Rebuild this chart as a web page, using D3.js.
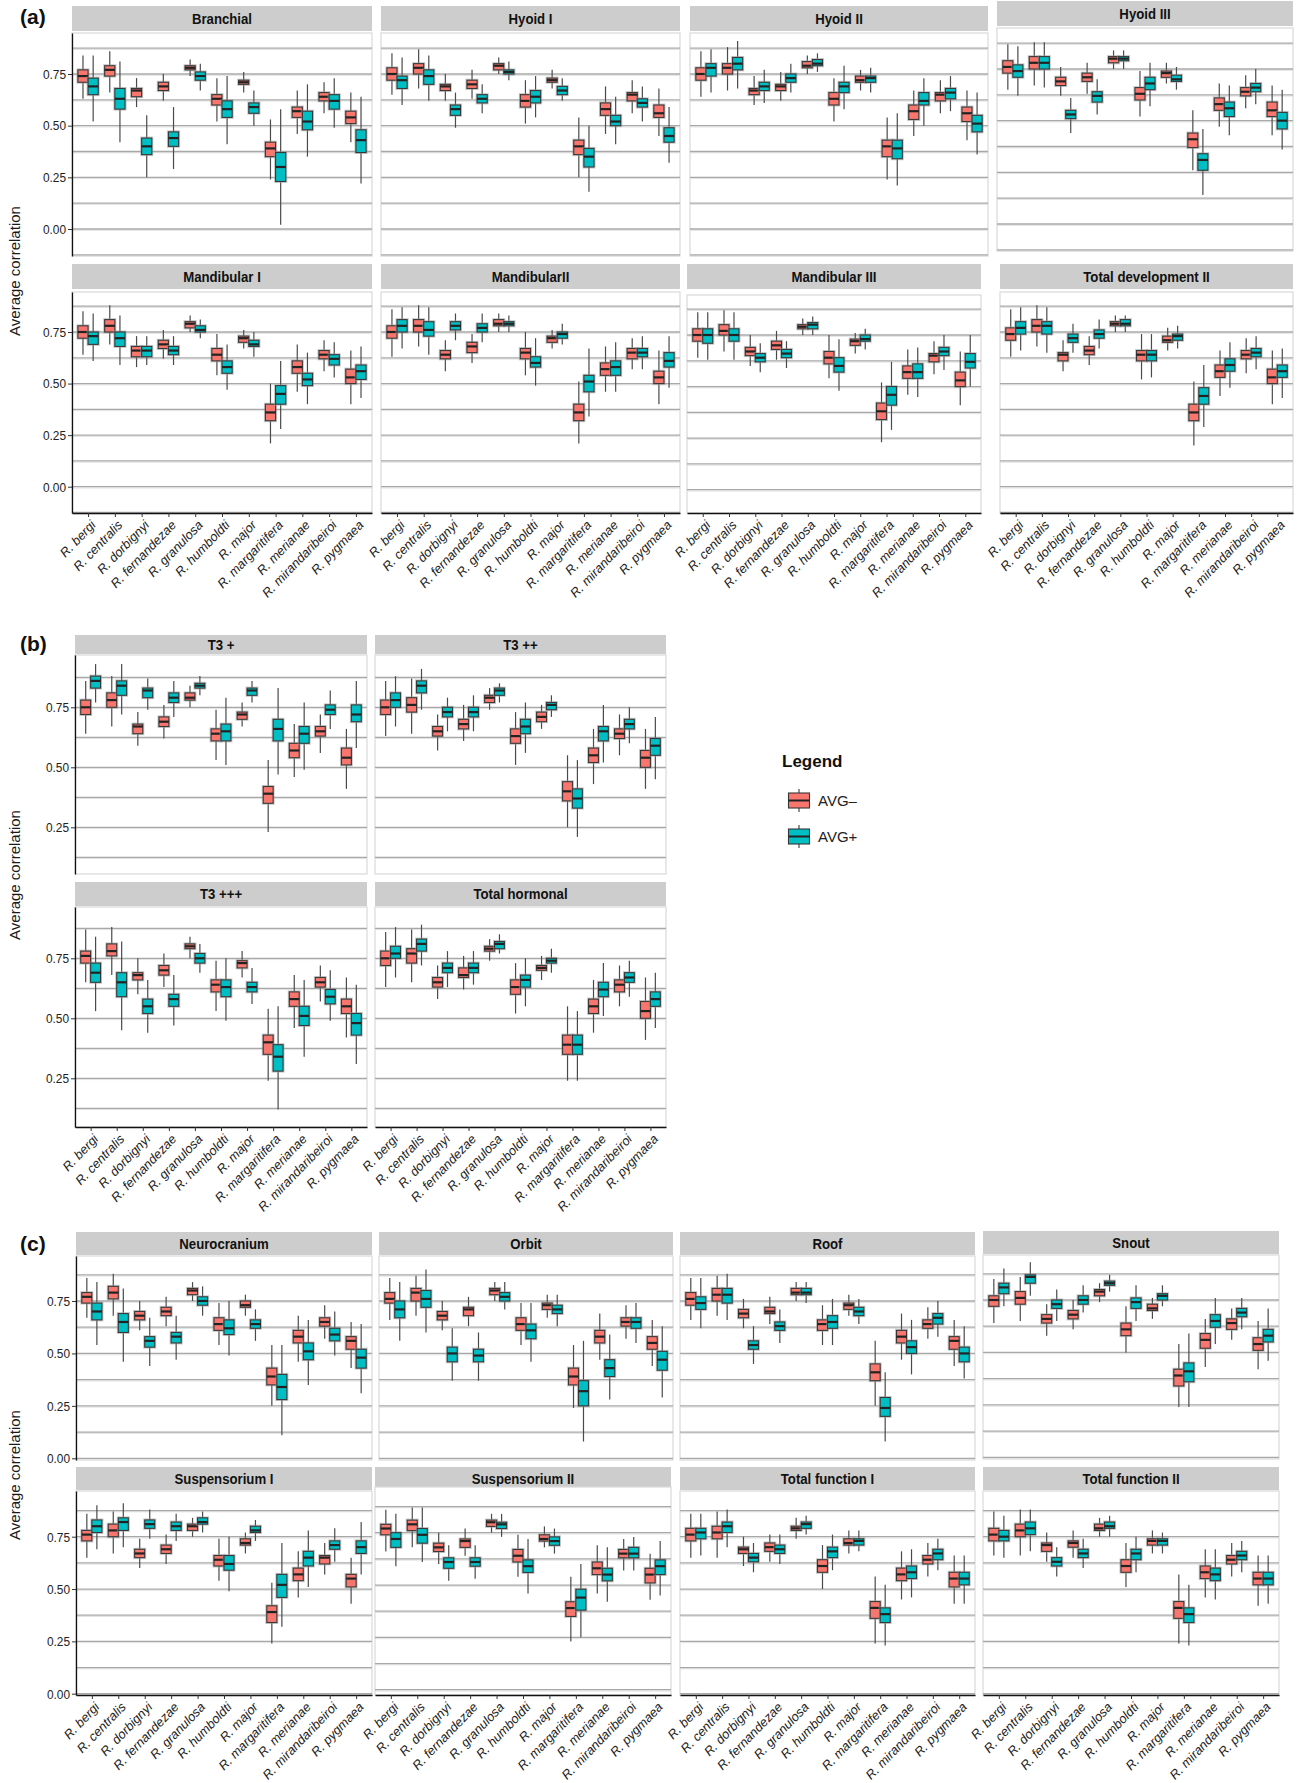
<!DOCTYPE html>
<html>
<head>
<meta charset="utf-8">
<script src="https://cdn.jsdelivr.net/npm/d3@7"></script>
<style>
  body { margin: 0; background: #fff; }
  svg { display: block; }
</style>
</head>
<body>
<div class="visHolder"></div>
<script>
// species on the x axis, two groups per species
const species = ['R. bergi', 'R. centralis', 'R. dorbignyi', 'R. fernandezae', 'R. granulosa',
  'R. humboldti', 'R. major', 'R. margaritifera', 'R. merianae', 'R. mirandaribeiroi', 'R. pygmaea'];
const seriesNames = ['AVG\u2013', 'AVG+'];
const seriesColors = ['#F8766D', '#00BFC4'];
const yTicks = [0, 0.25, 0.5, 0.75];

// each box: [lower whisker, q1, median, q3, upper whisker]
const branchialNeg = [[0.63,0.71,0.74,0.77,0.84],[0.66,0.74,0.77,0.79,0.86],[0.59,0.64,0.67,0.68,0.73],[0.62,0.67,0.69,0.71,0.75],[0.74,0.77,0.78,0.79,0.82],[0.52,0.60,0.63,0.65,0.73],[0.66,0.70,0.71,0.72,0.76],[0.24,0.35,0.39,0.42,0.53],[0.46,0.54,0.57,0.59,0.67],[0.56,0.62,0.64,0.66,0.71],[0.42,0.51,0.54,0.57,0.66]];
const branchialPos = [[0.52,0.65,0.69,0.73,0.84],[0.42,0.58,0.63,0.68,0.81],[0.25,0.36,0.40,0.44,0.55],[0.29,0.40,0.44,0.47,0.59],[0.67,0.72,0.74,0.76,0.80],[0.41,0.54,0.58,0.62,0.74],[0.50,0.56,0.59,0.61,0.67],[0.02,0.23,0.30,0.37,0.58],[0.35,0.48,0.52,0.57,0.70],[0.49,0.58,0.62,0.65,0.73],[0.22,0.37,0.43,0.48,0.64]];
const hyoid1Neg = [[0.65,0.72,0.75,0.78,0.85],[0.68,0.75,0.78,0.80,0.87],[0.62,0.67,0.69,0.70,0.75],[0.63,0.68,0.70,0.72,0.77],[0.75,0.77,0.79,0.80,0.83],[0.51,0.59,0.62,0.65,0.72],[0.68,0.71,0.72,0.73,0.77],[0.25,0.36,0.40,0.43,0.54],[0.46,0.55,0.58,0.61,0.69],[0.56,0.62,0.65,0.66,0.72],[0.45,0.54,0.56,0.60,0.68]];
const hyoid1Pos = [[0.60,0.68,0.72,0.74,0.83],[0.62,0.70,0.74,0.77,0.84],[0.49,0.55,0.58,0.60,0.66],[0.56,0.61,0.63,0.65,0.70],[0.72,0.75,0.76,0.77,0.81],[0.54,0.61,0.64,0.67,0.74],[0.62,0.65,0.67,0.69,0.73],[0.18,0.30,0.35,0.39,0.50],[0.41,0.50,0.52,0.55,0.64],[0.52,0.59,0.61,0.63,0.69],[0.32,0.42,0.45,0.49,0.59]];
const hyoid2Neg = [[0.64,0.72,0.75,0.78,0.86],[0.67,0.75,0.78,0.80,0.88],[0.60,0.65,0.67,0.68,0.74],[0.62,0.67,0.69,0.70,0.76],[0.75,0.78,0.79,0.81,0.84],[0.52,0.60,0.63,0.66,0.73],[0.67,0.71,0.72,0.74,0.77],[0.24,0.35,0.40,0.43,0.54],[0.45,0.53,0.57,0.60,0.67],[0.56,0.62,0.65,0.66,0.72],[0.43,0.52,0.56,0.59,0.67]];
const hyoid2Pos = [[0.66,0.74,0.78,0.80,0.87],[0.68,0.77,0.80,0.83,0.91],[0.61,0.67,0.69,0.71,0.77],[0.66,0.71,0.73,0.75,0.80],[0.76,0.79,0.80,0.82,0.85],[0.58,0.66,0.69,0.71,0.79],[0.66,0.71,0.73,0.74,0.78],[0.21,0.34,0.39,0.43,0.56],[0.50,0.60,0.62,0.66,0.73],[0.57,0.63,0.66,0.68,0.74],[0.36,0.47,0.51,0.55,0.66]];
const hyoid3Neg = [[0.65,0.73,0.76,0.79,0.87],[0.67,0.75,0.78,0.81,0.88],[0.62,0.67,0.69,0.71,0.76],[0.63,0.69,0.71,0.73,0.78],[0.75,0.78,0.80,0.81,0.84],[0.52,0.60,0.63,0.66,0.74],[0.68,0.71,0.73,0.74,0.78],[0.26,0.37,0.41,0.44,0.55],[0.47,0.55,0.58,0.61,0.68],[0.56,0.62,0.64,0.66,0.72],[0.43,0.52,0.55,0.59,0.67]];
const hyoid3Pos = [[0.62,0.71,0.74,0.77,0.86],[0.66,0.75,0.78,0.81,0.88],[0.44,0.51,0.53,0.55,0.61],[0.53,0.59,0.62,0.64,0.70],[0.75,0.79,0.80,0.81,0.84],[0.57,0.65,0.68,0.71,0.78],[0.65,0.69,0.70,0.72,0.76],[0.14,0.26,0.31,0.34,0.46],[0.43,0.52,0.56,0.59,0.67],[0.58,0.64,0.66,0.68,0.75],[0.36,0.46,0.50,0.54,0.65]];
const mand1Neg = [[0.64,0.72,0.75,0.78,0.85],[0.69,0.75,0.78,0.81,0.88],[0.58,0.63,0.66,0.68,0.73],[0.62,0.67,0.69,0.71,0.76],[0.75,0.77,0.79,0.80,0.83],[0.54,0.61,0.64,0.67,0.74],[0.67,0.70,0.72,0.73,0.76],[0.21,0.32,0.36,0.40,0.50],[0.46,0.55,0.58,0.61,0.69],[0.56,0.62,0.64,0.66,0.71],[0.40,0.50,0.53,0.57,0.66]];
const mand1Pos = [[0.61,0.69,0.73,0.75,0.84],[0.59,0.68,0.72,0.75,0.83],[0.59,0.63,0.66,0.68,0.73],[0.59,0.64,0.66,0.68,0.73],[0.72,0.75,0.76,0.78,0.81],[0.47,0.55,0.58,0.61,0.69],[0.63,0.68,0.69,0.71,0.75],[0.28,0.40,0.45,0.49,0.61],[0.40,0.49,0.52,0.55,0.65],[0.53,0.59,0.62,0.64,0.70],[0.43,0.52,0.56,0.59,0.68]];
const mand2Neg = [[0.63,0.72,0.75,0.78,0.86],[0.68,0.75,0.78,0.81,0.88],[0.56,0.62,0.64,0.66,0.71],[0.60,0.65,0.68,0.70,0.74],[0.75,0.78,0.79,0.81,0.84],[0.54,0.62,0.65,0.67,0.75],[0.67,0.70,0.72,0.73,0.76],[0.21,0.32,0.36,0.40,0.51],[0.46,0.54,0.57,0.60,0.68],[0.57,0.62,0.65,0.67,0.72],[0.40,0.50,0.53,0.56,0.66]];
const mand2Pos = [[0.67,0.75,0.78,0.81,0.87],[0.64,0.73,0.76,0.80,0.87],[0.71,0.76,0.78,0.80,0.84],[0.70,0.75,0.77,0.79,0.84],[0.75,0.78,0.79,0.80,0.83],[0.49,0.58,0.60,0.63,0.72],[0.69,0.72,0.74,0.75,0.79],[0.34,0.46,0.51,0.54,0.67],[0.46,0.54,0.58,0.61,0.70],[0.57,0.63,0.65,0.67,0.73],[0.48,0.58,0.61,0.65,0.73]];
const mand3Neg = [[0.64,0.72,0.75,0.78,0.86],[0.67,0.75,0.77,0.80,0.87],[0.60,0.65,0.67,0.69,0.75],[0.63,0.68,0.70,0.72,0.77],[0.75,0.78,0.79,0.80,0.83],[0.54,0.61,0.64,0.67,0.75],[0.66,0.70,0.72,0.73,0.76],[0.23,0.34,0.38,0.42,0.52],[0.46,0.54,0.57,0.60,0.68],[0.56,0.62,0.65,0.66,0.72],[0.41,0.50,0.53,0.57,0.67]];
const mand3Pos = [[0.63,0.71,0.75,0.78,0.86],[0.63,0.72,0.75,0.78,0.86],[0.57,0.62,0.64,0.66,0.71],[0.59,0.64,0.66,0.68,0.72],[0.75,0.78,0.80,0.81,0.84],[0.48,0.57,0.60,0.64,0.73],[0.68,0.72,0.73,0.75,0.78],[0.29,0.41,0.46,0.50,0.62],[0.45,0.54,0.57,0.61,0.69],[0.58,0.65,0.67,0.69,0.75],[0.50,0.59,0.62,0.66,0.75]];
const totDevNeg = [[0.63,0.71,0.74,0.77,0.86],[0.68,0.75,0.78,0.81,0.88],[0.56,0.61,0.64,0.65,0.71],[0.59,0.64,0.66,0.68,0.73],[0.75,0.78,0.79,0.80,0.83],[0.52,0.61,0.64,0.66,0.74],[0.66,0.70,0.71,0.73,0.77],[0.20,0.32,0.36,0.40,0.51],[0.44,0.53,0.56,0.59,0.66],[0.55,0.62,0.64,0.66,0.72],[0.40,0.50,0.53,0.57,0.66]];
const totDevPos = [[0.66,0.74,0.77,0.80,0.87],[0.65,0.74,0.78,0.80,0.87],[0.65,0.70,0.72,0.74,0.79],[0.67,0.72,0.74,0.76,0.81],[0.75,0.78,0.79,0.81,0.83],[0.53,0.61,0.64,0.66,0.74],[0.67,0.71,0.73,0.74,0.78],[0.29,0.40,0.44,0.48,0.59],[0.48,0.56,0.59,0.62,0.70],[0.57,0.63,0.65,0.67,0.73],[0.43,0.53,0.56,0.59,0.67]];
const t3aNeg = [[0.64,0.72,0.75,0.78,0.86],[0.67,0.75,0.78,0.81,0.88],[0.59,0.64,0.67,0.68,0.73],[0.62,0.67,0.69,0.71,0.76],[0.75,0.78,0.79,0.81,0.84],[0.53,0.61,0.64,0.66,0.74],[0.67,0.70,0.72,0.73,0.77],[0.23,0.35,0.39,0.42,0.53],[0.46,0.54,0.57,0.60,0.68],[0.56,0.63,0.65,0.67,0.72],[0.41,0.51,0.54,0.58,0.66]];
const t3aPos = [[0.77,0.83,0.86,0.88,0.93],[0.72,0.80,0.84,0.86,0.93],[0.74,0.79,0.82,0.83,0.87],[0.71,0.77,0.79,0.81,0.86],[0.80,0.83,0.84,0.85,0.88],[0.51,0.61,0.65,0.68,0.79],[0.77,0.80,0.82,0.83,0.86],[0.47,0.61,0.66,0.70,0.83],[0.49,0.60,0.64,0.67,0.77],[0.66,0.72,0.74,0.76,0.82],[0.58,0.69,0.72,0.76,0.86]];
const t3bNeg = [[0.63,0.72,0.75,0.78,0.86],[0.64,0.73,0.76,0.79,0.87],[0.57,0.63,0.65,0.67,0.72],[0.61,0.66,0.68,0.70,0.76],[0.74,0.77,0.79,0.80,0.83],[0.51,0.60,0.63,0.66,0.73],[0.66,0.69,0.71,0.73,0.76],[0.25,0.36,0.40,0.44,0.55],[0.43,0.52,0.55,0.58,0.66],[0.55,0.62,0.64,0.66,0.72],[0.41,0.50,0.54,0.57,0.66]];
const t3bPos = [[0.67,0.75,0.78,0.81,0.88],[0.74,0.81,0.84,0.86,0.91],[0.65,0.71,0.73,0.75,0.79],[0.65,0.71,0.73,0.75,0.80],[0.77,0.80,0.82,0.83,0.85],[0.56,0.64,0.67,0.70,0.77],[0.71,0.74,0.76,0.77,0.80],[0.21,0.33,0.37,0.41,0.53],[0.52,0.61,0.65,0.67,0.76],[0.60,0.66,0.68,0.70,0.75],[0.45,0.55,0.59,0.62,0.71]];
const t3cNeg = [[0.65,0.73,0.76,0.78,0.87],[0.68,0.76,0.78,0.81,0.88],[0.60,0.66,0.68,0.69,0.75],[0.63,0.68,0.70,0.72,0.77],[0.75,0.79,0.80,0.81,0.84],[0.53,0.61,0.64,0.66,0.74],[0.67,0.71,0.73,0.74,0.78],[0.24,0.35,0.40,0.43,0.54],[0.46,0.55,0.58,0.61,0.68],[0.57,0.63,0.65,0.67,0.72],[0.42,0.52,0.55,0.58,0.67]];
const t3cPos = [[0.53,0.65,0.69,0.73,0.84],[0.45,0.59,0.65,0.69,0.82],[0.44,0.52,0.55,0.58,0.66],[0.47,0.55,0.58,0.60,0.68],[0.69,0.73,0.75,0.77,0.81],[0.49,0.59,0.63,0.66,0.75],[0.56,0.61,0.63,0.65,0.71],[0.12,0.28,0.34,0.39,0.55],[0.34,0.47,0.51,0.55,0.66],[0.49,0.56,0.59,0.62,0.70],[0.31,0.43,0.48,0.52,0.64]];
const totHormNeg = [[0.63,0.72,0.75,0.78,0.86],[0.65,0.73,0.77,0.79,0.87],[0.58,0.63,0.65,0.67,0.72],[0.62,0.67,0.68,0.71,0.76],[0.74,0.78,0.79,0.80,0.83],[0.52,0.60,0.63,0.66,0.73],[0.66,0.70,0.71,0.72,0.76],[0.24,0.35,0.39,0.43,0.55],[0.44,0.52,0.55,0.58,0.66],[0.55,0.61,0.64,0.66,0.72],[0.41,0.50,0.53,0.57,0.67]];
const totHormPos = [[0.67,0.75,0.77,0.80,0.88],[0.72,0.78,0.81,0.83,0.89],[0.63,0.69,0.71,0.73,0.78],[0.64,0.69,0.71,0.73,0.78],[0.77,0.79,0.81,0.82,0.85],[0.55,0.63,0.66,0.68,0.75],[0.69,0.73,0.74,0.75,0.79],[0.24,0.35,0.39,0.43,0.53],[0.51,0.59,0.62,0.65,0.73],[0.59,0.65,0.67,0.69,0.74],[0.46,0.55,0.58,0.61,0.69]];
const neuroNeg = [[0.67,0.74,0.77,0.79,0.86],[0.68,0.76,0.79,0.82,0.88],[0.61,0.66,0.68,0.70,0.75],[0.63,0.68,0.70,0.72,0.77],[0.75,0.78,0.80,0.81,0.84],[0.54,0.61,0.64,0.67,0.74],[0.68,0.72,0.73,0.75,0.78],[0.25,0.35,0.39,0.43,0.54],[0.46,0.55,0.58,0.61,0.68],[0.57,0.63,0.65,0.67,0.73],[0.43,0.52,0.56,0.58,0.65]];
const neuroPos = [[0.54,0.66,0.70,0.74,0.84],[0.46,0.60,0.65,0.69,0.81],[0.44,0.53,0.56,0.58,0.67],[0.47,0.55,0.58,0.60,0.68],[0.68,0.73,0.75,0.77,0.82],[0.49,0.59,0.62,0.66,0.75],[0.56,0.62,0.64,0.66,0.71],[0.11,0.28,0.34,0.40,0.54],[0.35,0.47,0.51,0.55,0.66],[0.49,0.56,0.59,0.62,0.70],[0.31,0.43,0.48,0.52,0.64]];
const orbitNeg = [[0.66,0.74,0.76,0.79,0.86],[0.68,0.75,0.79,0.81,0.87],[0.61,0.66,0.68,0.70,0.75],[0.63,0.68,0.71,0.72,0.77],[0.75,0.78,0.80,0.81,0.84],[0.54,0.61,0.64,0.67,0.74],[0.67,0.71,0.73,0.74,0.78],[0.24,0.35,0.39,0.43,0.54],[0.47,0.55,0.58,0.61,0.69],[0.57,0.63,0.65,0.67,0.73],[0.44,0.52,0.55,0.58,0.66]];
const orbitPos = [[0.56,0.67,0.71,0.75,0.84],[0.60,0.72,0.76,0.80,0.90],[0.37,0.46,0.50,0.53,0.62],[0.37,0.46,0.49,0.52,0.60],[0.71,0.75,0.77,0.79,0.84],[0.46,0.57,0.61,0.64,0.74],[0.63,0.69,0.71,0.73,0.78],[0.08,0.25,0.32,0.37,0.56],[0.28,0.39,0.43,0.47,0.59],[0.55,0.62,0.65,0.67,0.74],[0.29,0.42,0.47,0.51,0.63]];
const roofNeg = [[0.66,0.73,0.76,0.79,0.86],[0.68,0.75,0.78,0.81,0.87],[0.62,0.67,0.69,0.71,0.76],[0.64,0.69,0.70,0.72,0.77],[0.75,0.78,0.79,0.81,0.84],[0.54,0.61,0.64,0.66,0.73],[0.68,0.71,0.73,0.74,0.78],[0.25,0.37,0.41,0.45,0.56],[0.47,0.55,0.58,0.61,0.69],[0.57,0.62,0.64,0.66,0.72],[0.44,0.52,0.56,0.58,0.66]];
const roofPos = [[0.62,0.71,0.74,0.77,0.86],[0.66,0.74,0.78,0.81,0.88],[0.45,0.52,0.54,0.56,0.63],[0.55,0.61,0.63,0.65,0.71],[0.74,0.78,0.79,0.81,0.84],[0.54,0.62,0.65,0.68,0.76],[0.64,0.68,0.70,0.72,0.76],[0.08,0.20,0.24,0.29,0.41],[0.40,0.50,0.53,0.56,0.66],[0.58,0.64,0.67,0.69,0.75],[0.38,0.46,0.50,0.53,0.63]];
const snoutNeg = [[0.64,0.72,0.75,0.77,0.85],[0.65,0.73,0.76,0.79,0.86],[0.58,0.64,0.66,0.68,0.73],[0.61,0.66,0.68,0.70,0.75],[0.74,0.77,0.79,0.80,0.83],[0.50,0.58,0.61,0.64,0.72],[0.66,0.70,0.71,0.73,0.76],[0.24,0.34,0.39,0.42,0.54],[0.43,0.52,0.56,0.59,0.66],[0.56,0.61,0.64,0.66,0.71],[0.42,0.51,0.54,0.57,0.65]];
const snoutPos = [[0.72,0.78,0.81,0.83,0.90],[0.77,0.83,0.86,0.87,0.93],[0.65,0.71,0.73,0.75,0.80],[0.69,0.73,0.75,0.77,0.82],[0.79,0.82,0.83,0.84,0.87],[0.65,0.71,0.74,0.76,0.82],[0.72,0.75,0.77,0.78,0.82],[0.24,0.36,0.41,0.45,0.59],[0.54,0.62,0.65,0.68,0.76],[0.61,0.67,0.69,0.71,0.76],[0.46,0.55,0.58,0.61,0.71]];
const susp1Neg = [[0.65,0.73,0.76,0.78,0.86],[0.67,0.75,0.78,0.81,0.87],[0.60,0.65,0.67,0.69,0.74],[0.62,0.67,0.69,0.71,0.76],[0.75,0.78,0.80,0.81,0.84],[0.54,0.61,0.64,0.66,0.74],[0.67,0.71,0.72,0.74,0.77],[0.24,0.34,0.39,0.42,0.53],[0.46,0.54,0.57,0.60,0.68],[0.57,0.62,0.65,0.66,0.72],[0.43,0.51,0.55,0.57,0.65]];
const susp1Pos = [[0.69,0.77,0.80,0.83,0.90],[0.70,0.78,0.82,0.84,0.91],[0.74,0.79,0.81,0.83,0.88],[0.73,0.78,0.80,0.82,0.86],[0.77,0.81,0.82,0.84,0.87],[0.49,0.59,0.62,0.66,0.75],[0.73,0.77,0.78,0.80,0.83],[0.32,0.46,0.52,0.57,0.72],[0.51,0.61,0.65,0.68,0.78],[0.63,0.69,0.71,0.73,0.79],[0.57,0.67,0.70,0.73,0.82]];
const susp2Neg = [[0.66,0.74,0.77,0.79,0.86],[0.68,0.76,0.79,0.81,0.87],[0.60,0.66,0.68,0.70,0.75],[0.64,0.68,0.71,0.72,0.77],[0.75,0.78,0.80,0.81,0.84],[0.54,0.61,0.64,0.67,0.74],[0.68,0.71,0.72,0.74,0.78],[0.23,0.35,0.39,0.42,0.54],[0.46,0.55,0.58,0.61,0.69],[0.57,0.63,0.65,0.67,0.72],[0.43,0.51,0.55,0.58,0.65]];
const susp2Pos = [[0.59,0.68,0.72,0.75,0.84],[0.61,0.70,0.74,0.77,0.87],[0.52,0.58,0.61,0.63,0.69],[0.53,0.59,0.61,0.63,0.69],[0.73,0.77,0.79,0.80,0.84],[0.46,0.56,0.59,0.62,0.72],[0.65,0.69,0.71,0.73,0.77],[0.25,0.38,0.44,0.48,0.60],[0.42,0.52,0.55,0.58,0.68],[0.57,0.63,0.65,0.68,0.73],[0.45,0.55,0.59,0.62,0.71]];
const totFun1Neg = [[0.65,0.73,0.76,0.79,0.86],[0.65,0.74,0.77,0.80,0.87],[0.61,0.67,0.69,0.70,0.75],[0.63,0.68,0.70,0.72,0.76],[0.74,0.78,0.79,0.80,0.84],[0.50,0.58,0.61,0.64,0.71],[0.67,0.71,0.72,0.74,0.78],[0.24,0.36,0.41,0.44,0.56],[0.45,0.54,0.57,0.60,0.68],[0.56,0.62,0.64,0.66,0.72],[0.43,0.51,0.55,0.58,0.66]];
const totFun1Pos = [[0.66,0.74,0.77,0.79,0.86],[0.70,0.77,0.80,0.82,0.88],[0.58,0.63,0.65,0.67,0.72],[0.62,0.67,0.69,0.71,0.76],[0.76,0.79,0.81,0.82,0.85],[0.59,0.65,0.68,0.70,0.76],[0.68,0.71,0.73,0.74,0.78],[0.23,0.34,0.38,0.41,0.52],[0.46,0.55,0.58,0.61,0.69],[0.59,0.64,0.67,0.69,0.74],[0.43,0.52,0.55,0.58,0.66]];
const totFun2Neg = [[0.66,0.73,0.76,0.79,0.87],[0.66,0.75,0.78,0.81,0.88],[0.63,0.68,0.71,0.72,0.77],[0.65,0.70,0.72,0.73,0.78],[0.75,0.78,0.79,0.81,0.84],[0.51,0.58,0.61,0.64,0.72],[0.67,0.71,0.73,0.74,0.78],[0.24,0.36,0.41,0.44,0.57],[0.46,0.55,0.58,0.61,0.69],[0.56,0.62,0.64,0.66,0.72],[0.42,0.52,0.55,0.58,0.66]];
const totFun2Pos = [[0.65,0.73,0.75,0.78,0.85],[0.68,0.76,0.79,0.82,0.88],[0.56,0.61,0.63,0.65,0.70],[0.60,0.65,0.67,0.69,0.74],[0.75,0.79,0.80,0.82,0.85],[0.58,0.64,0.67,0.69,0.75],[0.67,0.71,0.73,0.74,0.77],[0.23,0.34,0.38,0.41,0.52],[0.45,0.54,0.57,0.60,0.69],[0.58,0.64,0.66,0.68,0.73],[0.43,0.52,0.55,0.58,0.66]];

// page layout (pixels)
const W = 1301, H = 1783;
const rows = {
  a1: {strip: [6, 31], plot: [33, 256], y75: 74, y0: 229},
  a2: {strip: [264, 289], plot: [292, 513], y75: 332, y0: 486.7, xAxis: true},
  b1: {strip: [635, 654], plot: [655, 874], y75: 707.3, y0: 887.3},
  b2: {strip: [882, 906], plot: [907, 1127], y75: 958.3, y0: 1138.3, xAxis: true},
  c1: {strip: [1232, 1255], plot: [1256, 1460], y75: 1301, y0: 1458.3},
  c2: {strip: [1467, 1490], plot: [1491, 1695], y75: 1536.7, y0: 1693.7, xAxis: true}
};

const panels = [
  {title: 'Branchial', neg: branchialNeg, pos: branchialPos, row: 'a1', x: [72, 372], yAxis: true},
  {title: 'Hyoid I', neg: hyoid1Neg, pos: hyoid1Pos, row: 'a1', x: [381, 680]},
  {title: 'Hyoid II', neg: hyoid2Neg, pos: hyoid2Pos, row: 'a1', x: [690, 988]},
  {title: 'Hyoid III', neg: hyoid3Neg, pos: hyoid3Pos, row: 'a1', x: [997, 1293], dy: -5},
  {title: 'Mandibular I', neg: mand1Neg, pos: mand1Pos, row: 'a2', x: [72, 372], yAxis: true},
  {title: 'MandibularII', neg: mand2Neg, pos: mand2Pos, row: 'a2', x: [381, 680]},
  {title: 'Mandibular III', neg: mand3Neg, pos: mand3Pos, row: 'a2', x: [687, 981], dy: 3},
  {title: 'Total development II', neg: totDevNeg, pos: totDevPos, row: 'a2', x: [1000, 1293]},
  {title: 'T3 +', neg: t3aNeg, pos: t3aPos, row: 'b1', x: [75, 367], yAxis: true},
  {title: 'T3 ++', neg: t3bNeg, pos: t3bPos, row: 'b1', x: [375, 666]},
  {title: 'T3 +++', neg: t3cNeg, pos: t3cPos, row: 'b2', x: [75, 367], yAxis: true},
  {title: 'Total hormonal', neg: totHormNeg, pos: totHormPos, row: 'b2', x: [375, 666]},
  {title: 'Neurocranium', neg: neuroNeg, pos: neuroPos, row: 'c1', x: [76, 372], yAxis: true},
  {title: 'Orbit', neg: orbitNeg, pos: orbitPos, row: 'c1', x: [379, 673]},
  {title: 'Roof', neg: roofNeg, pos: roofPos, row: 'c1', x: [680, 975]},
  {title: 'Snout', neg: snoutNeg, pos: snoutPos, row: 'c1', x: [983, 1279], dy: -1},
  {title: 'Suspensorium I', neg: susp1Neg, pos: susp1Pos, row: 'c2', x: [76, 372], yAxis: true},
  {title: 'Suspensorium II', neg: susp2Neg, pos: susp2Pos, row: 'c2', x: [375, 671], dy: -4},
  {title: 'Total function I', neg: totFun1Neg, pos: totFun1Pos, row: 'c2', x: [680, 975]},
  {title: 'Total function II', neg: totFun2Neg, pos: totFun2Pos, row: 'c2', x: [983, 1279]}
];

const regular = "'Liberation Sans', Arial, sans-serif";

const svg = d3.select('.visHolder')
  .append('svg')
  .attr('width', W)
  .attr('height', H)
  .attr('viewBox', `0 0 ${W} ${H}`);

svg.append('rect').attr('width', W).attr('height', H).attr('fill', '#fff');

const drawPanel = (p) => {
  const r = rows[p.row];
  const dy = p.dy || 0;
  const [x0, x1] = p.x;
  const top = r.plot[0] + dy;
  const bottom = r.xAxis ? r.plot[1] : r.plot[1] + dy;
  const stripTop = r.xAxis ? r.strip[0] : r.strip[0] + dy;
  const stripBottom = r.xAxis ? r.strip[1] : r.strip[1] + dy;

  // y scale anchored on the 0 and 0.75 gridlines, then stretched to the panel
  const anchor = d3.scaleLinear().domain([0, 0.75]).range([r.y0 + dy, r.y75 + dy]);
  const yScale = d3.scaleLinear()
    .domain([anchor.invert(bottom), anchor.invert(top)])
    .range([bottom, top]);
  const xScale = d3.scalePoint().domain(species).range([x0, x1]).padding(0.6);
  const bw = xScale.step() * 0.38;

  const g = svg.append('g').attr('class', 'panel');

  // strip (narrow bold title, squeezed Arial-like face)
  g.append('rect')
    .attr('x', x0).attr('y', stripTop)
    .attr('width', x1 - x0).attr('height', stripBottom - stripTop)
    .attr('fill', '#cdcdcd');
  g.append('text')
    .attr('transform', `translate(${(x0 + x1) / 2}, ${(stripTop + stripBottom) / 2}) scale(0.88, 1)`)
    .attr('dy', '0.36em')
    .attr('text-anchor', 'middle')
    .style('font-family', regular)
    .style('font-weight', 'bold')
    .style('font-size', '15px')
    .attr('fill', '#111')
    .text(p.title);

  // panel background and border
  g.append('rect')
    .attr('x', x0).attr('y', top)
    .attr('width', x1 - x0).attr('height', bottom - top)
    .attr('fill', '#fff')
    .attr('stroke', '#d9d9d9')
    .attr('stroke-width', 1.2);

  // gridlines every 0.125
  const grid = d3.range(-0.125, 1.0001, 0.125)
    .filter(v => yScale(v) > top + 1 && yScale(v) < bottom - 0.5);
  g.selectAll('.grid-soft')
    .data(grid)
    .enter()
    .append('line')
    .attr('x1', x0).attr('x2', x1)
    .attr('y1', d => yScale(d) + 1.3).attr('y2', d => yScale(d) + 1.3)
    .attr('stroke', '#e2e2e2')
    .attr('stroke-width', 1);
  g.selectAll('.grid')
    .data(grid)
    .enter()
    .append('line')
    .attr('class', 'grid')
    .attr('x1', x0).attr('x2', x1)
    .attr('y1', d => yScale(d)).attr('y2', d => yScale(d))
    .attr('stroke', '#a8a8a8')
    .attr('stroke-width', 1.3);

  // boxes: AVG- left, AVG+ right
  [p.neg, p.pos].forEach((series, s) => {
    const boxes = g.selectAll(`.box-${s}`)
      .data(series.map((d, i) => ({sp: species[i], v: d})))
      .enter()
      .append('g')
      .attr('class', `box-${s}`);
    const cx = d => xScale(d.sp) + (s === 0 ? -bw / 2 : bw / 2);

    boxes.append('line')
      .attr('x1', cx).attr('x2', cx)
      .attr('y1', d => yScale(d.v[0])).attr('y2', d => yScale(d.v[4]))
      .attr('stroke', '#4a4a4a')
      .attr('stroke-width', 1.2);
    // soft halo around each box
    boxes.append('rect')
      .attr('x', d => cx(d) - bw / 2).attr('y', d => yScale(d.v[3]))
      .attr('width', bw).attr('height', d => yScale(d.v[1]) - yScale(d.v[3]))
      .attr('fill', 'none')
      .attr('stroke', '#999')
      .attr('stroke-opacity', 0.55)
      .attr('stroke-width', 3);
    boxes.append('rect')
      .attr('x', d => cx(d) - bw / 2).attr('y', d => yScale(d.v[3]))
      .attr('width', bw).attr('height', d => yScale(d.v[1]) - yScale(d.v[3]))
      .attr('fill', seriesColors[s])
      .attr('stroke', '#383838')
      .attr('stroke-width', 1.1);
    boxes.append('line')
      .attr('x1', d => cx(d) - bw / 2).attr('x2', d => cx(d) + bw / 2)
      .attr('y1', d => yScale(d.v[2])).attr('y2', d => yScale(d.v[2]))
      .attr('stroke', '#222')
      .attr('stroke-width', 2.2);
  });

  // y axis on the first column only
  if (p.yAxis) {
    const yAxis = d3.axisLeft(yScale)
      .tickValues(yTicks.filter(v => yScale(v) >= top && yScale(v) <= bottom))
      .tickFormat(d3.format('.2f'))
      .tickSize(4)
      .tickSizeOuter(0);
    const ya = g.append('g')
      .attr('transform', `translate(${x0}, 0)`)
      .call(yAxis);
    ya.select('.domain').attr('stroke', '#111').attr('stroke-width', 1.3);
    ya.selectAll('.tick line').attr('stroke', '#333');
    ya.selectAll('.tick text')
      .attr('x', 0)
      .attr('transform', 'translate(-6, 0) scale(0.88, 1)')
      .style('font-family', regular)
      .style('font-size', '13.5px')
      .attr('fill', '#222');
  }

  // x axis on the bottom row of each block
  if (r.xAxis) {
    const xAxis = d3.axisBottom(xScale).tickSize(4).tickSizeOuter(0);
    const xa = g.append('g')
      .attr('transform', `translate(0, ${bottom})`)
      .call(xAxis);
    xa.select('.domain').attr('stroke', '#111').attr('stroke-width', 1.5);
    xa.selectAll('.tick line').attr('stroke', '#333');
    xa.selectAll('.tick text')
      .attr('y', 0)
      .attr('dy', '0.75em')
      .attr('text-anchor', 'end')
      .attr('transform', 'translate(1, 6) rotate(-46)')
      .style('font-family', regular)
      .style('font-style', 'italic')
      .style('font-size', '12.8px')
      .attr('fill', '#222');
  }
};

panels.forEach(drawPanel);

// block letters
const blockLabels = [['(a)', 24], ['(b)', 651], ['(c)', 1251]];
svg.selectAll('.block-label')
  .data(blockLabels)
  .enter()
  .append('text')
  .attr('class', 'block-label')
  .attr('x', 20)
  .attr('y', d => d[1])
  .style('font-family', regular)
  .style('font-weight', 'bold')
  .style('font-size', '21px')
  .attr('fill', '#111')
  .text(d => d[0]);

// y titles
const yTitles = [271, 875, 1475];
svg.selectAll('.y-title')
  .data(yTitles)
  .enter()
  .append('text')
  .attr('class', 'y-title')
  .attr('transform', d => `translate(20, ${d}) rotate(-90)`)
  .attr('text-anchor', 'middle')
  .style('font-family', regular)
  .style('font-size', '15px')
  .attr('fill', '#1a1a1a')
  .text('Average correlation');

// legend
const legend = svg.append('g').attr('id', 'legend');
legend.append('text')
  .attr('x', 782).attr('y', 767)
  .style('font-family', regular)
  .style('font-weight', 'bold')
  .style('font-size', '17px')
  .attr('fill', '#111')
  .text('Legend');

const keys = legend.selectAll('.legend-key')
  .data(seriesNames)
  .enter()
  .append('g')
  .attr('class', 'legend-key')
  .attr('transform', (d, i) => `translate(799, ${800.5 + i * 36})`);
keys.append('line')
  .attr('y1', -11.5).attr('y2', 11.5)
  .attr('stroke', '#4a4a4a').attr('stroke-width', 1.2);
keys.append('rect')
  .attr('x', -10.5).attr('y', -7.5)
  .attr('width', 21).attr('height', 15)
  .attr('fill', (d, i) => seriesColors[i])
  .attr('stroke', '#383838').attr('stroke-width', 1.1);
keys.append('line')
  .attr('x1', -10.5).attr('x2', 10.5)
  .attr('stroke', '#222').attr('stroke-width', 2);
keys.append('text')
  .attr('x', 19)
  .attr('dy', '0.36em')
  .style('font-family', regular)
  .style('font-size', '15px')
  .attr('fill', '#222')
  .text(d => d);
</script>
</body>
</html>
